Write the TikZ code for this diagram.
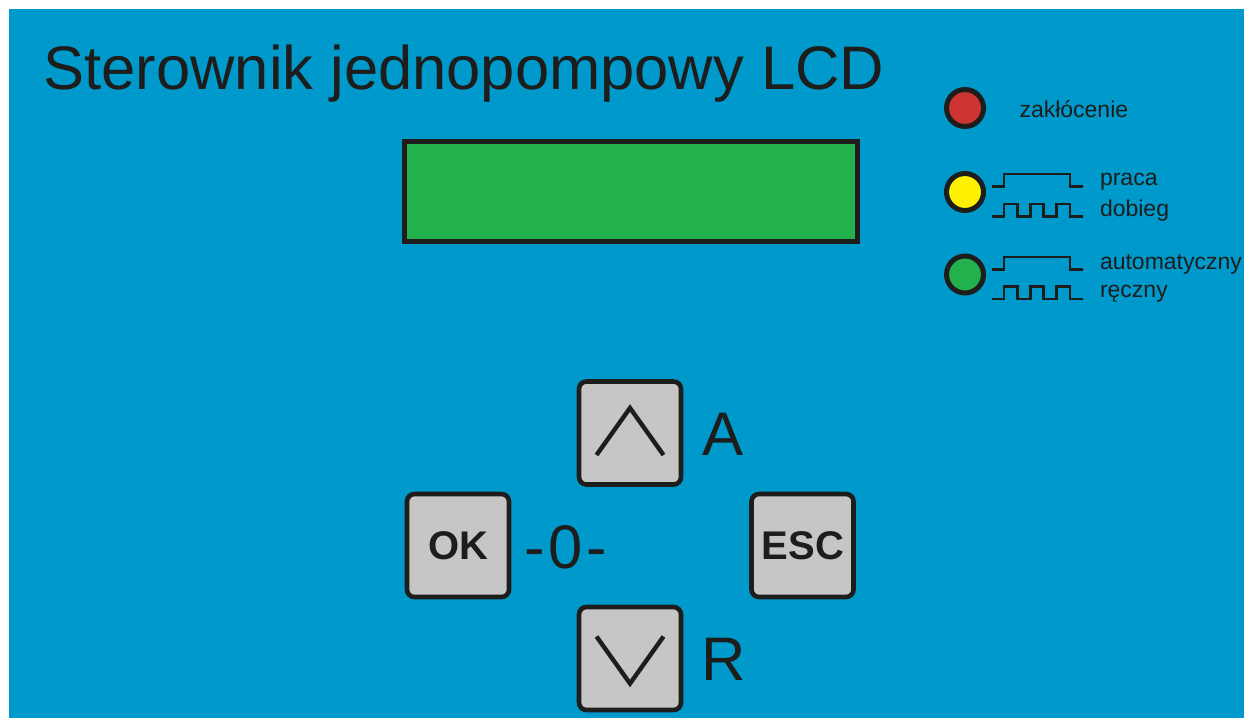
\documentclass[tikz,border=0pt]{standalone}
\usepackage{fontspec}
\setmainfont{Liberation Sans}
\definecolor{panel}{HTML}{0099CC}
\definecolor{ink}{HTML}{1D1D1B}
\definecolor{keygrey}{HTML}{C6C6C6}
\definecolor{lcdgreen}{HTML}{22B14C}
\definecolor{ledred}{HTML}{CE3532}
\definecolor{ledyellow}{HTML}{FFF200}
\tikzset{
  keybox/.style={draw=ink,fill=keygrey,line width=4.6pt,rounded corners=7.5pt,minimum width=102pt,minimum height=103pt,inner sep=0pt,outer sep=0pt,text=ink,font=\fontsize{40}{40}\selectfont\bfseries},
  led/.style={circle,draw=ink,line width=5pt,minimum size=37pt,inner sep=0pt,outer sep=0pt},
  small/.style={anchor=base west,inner sep=0pt,outer sep=0pt,text=ink,font=\fontsize{23}{23}\selectfont},
  big/.style={anchor=base west,inner sep=0pt,outer sep=0pt,text=ink,font=\fontsize{61.5}{61.5}\selectfont},
  wave/.style={draw=ink,line width=2.4pt,miter limit=10},
  chev/.style={draw=ink,line width=4.4pt},
}
\begin{document}
\begin{tikzpicture}[x=1pt,y=-1pt]
\useasboundingbox (0,0) rectangle (1244,718);
\fill[panel] (9,9) rectangle (1244,718);
\node[big] (title) at (43.5,89.5) {Sterownik jednopompowy LCD};
\node[draw=ink,fill=lcdgreen,line width=5pt,minimum width=453pt,minimum height=100pt,inner sep=0pt,outer sep=0pt] (lcd) at (631,191.5) {};
\node[led,fill=ledred] (l1) at (965,108) {};
\node[led,fill=ledyellow] (l2) at (965,192) {};
\node[led,fill=lcdgreen] (l3) at (965,274.5) {};
\node[small] (t1) at (1019.5,117) {zakłócenie};
\node[small] (t2) at (1100,185) {praca};
\node[small] (t3) at (1100,216) {dobieg};
\node[small] (t4) at (1100,269) {automatyczny};
\node[small] (t5) at (1100,297.5) {ręczny};
\draw[wave] (991.5,186.5) -- (1004,186.5) -- (1004,174) -- (1070,174) -- (1070,186.5) -- (1082.5,186.5);
\draw[wave] (991.5,216.5) -- (1004,216.5) -- (1004,204) -- (1017.5,204) -- (1017.5,216.5) -- (1030.5,216.5) -- (1030.5,204) -- (1043.5,204) -- (1043.5,216.5) -- (1056.5,216.5) -- (1056.5,204) -- (1070,204) -- (1070,216.5) -- (1082.5,216.5);
\draw[wave] (991.5,269.5) -- (1004,269.5) -- (1004,257) -- (1070,257) -- (1070,269.5) -- (1082.5,269.5);
\draw[wave] (991.5,299) -- (1004,299) -- (1004,286.5) -- (1017.5,286.5) -- (1017.5,299) -- (1030.5,299) -- (1030.5,286.5) -- (1043.5,286.5) -- (1043.5,299) -- (1056.5,299) -- (1056.5,286.5) -- (1070,286.5) -- (1070,299) -- (1082.5,299);
\node[keybox] (up) at (630,433) {};
\node[keybox] (down) at (630,658.5) {};
\node[keybox] (ok) at (458,545.5) {\kern1pt OK};
\node[keybox] (esc) at (802.5,545.5) {\kern1pt ESC};
\draw[chev] ([shift={(-33.5,22)}]up.center) -- ([shift={(0,-25)}]up.center) -- ([shift={(33.5,22)}]up.center);
\draw[chev] ([shift={(-33.5,-22)}]down.center) -- ([shift={(0,25)}]down.center) -- ([shift={(33.5,-22)}]down.center);
\node[big] (a) at (702,455) {A};
\node[big] (r) at (701.5,680.5) {R};
\node[big] (zero) at (524,568) {-\kern4pt 0\kern4pt -};
\end{tikzpicture}
\end{document}
